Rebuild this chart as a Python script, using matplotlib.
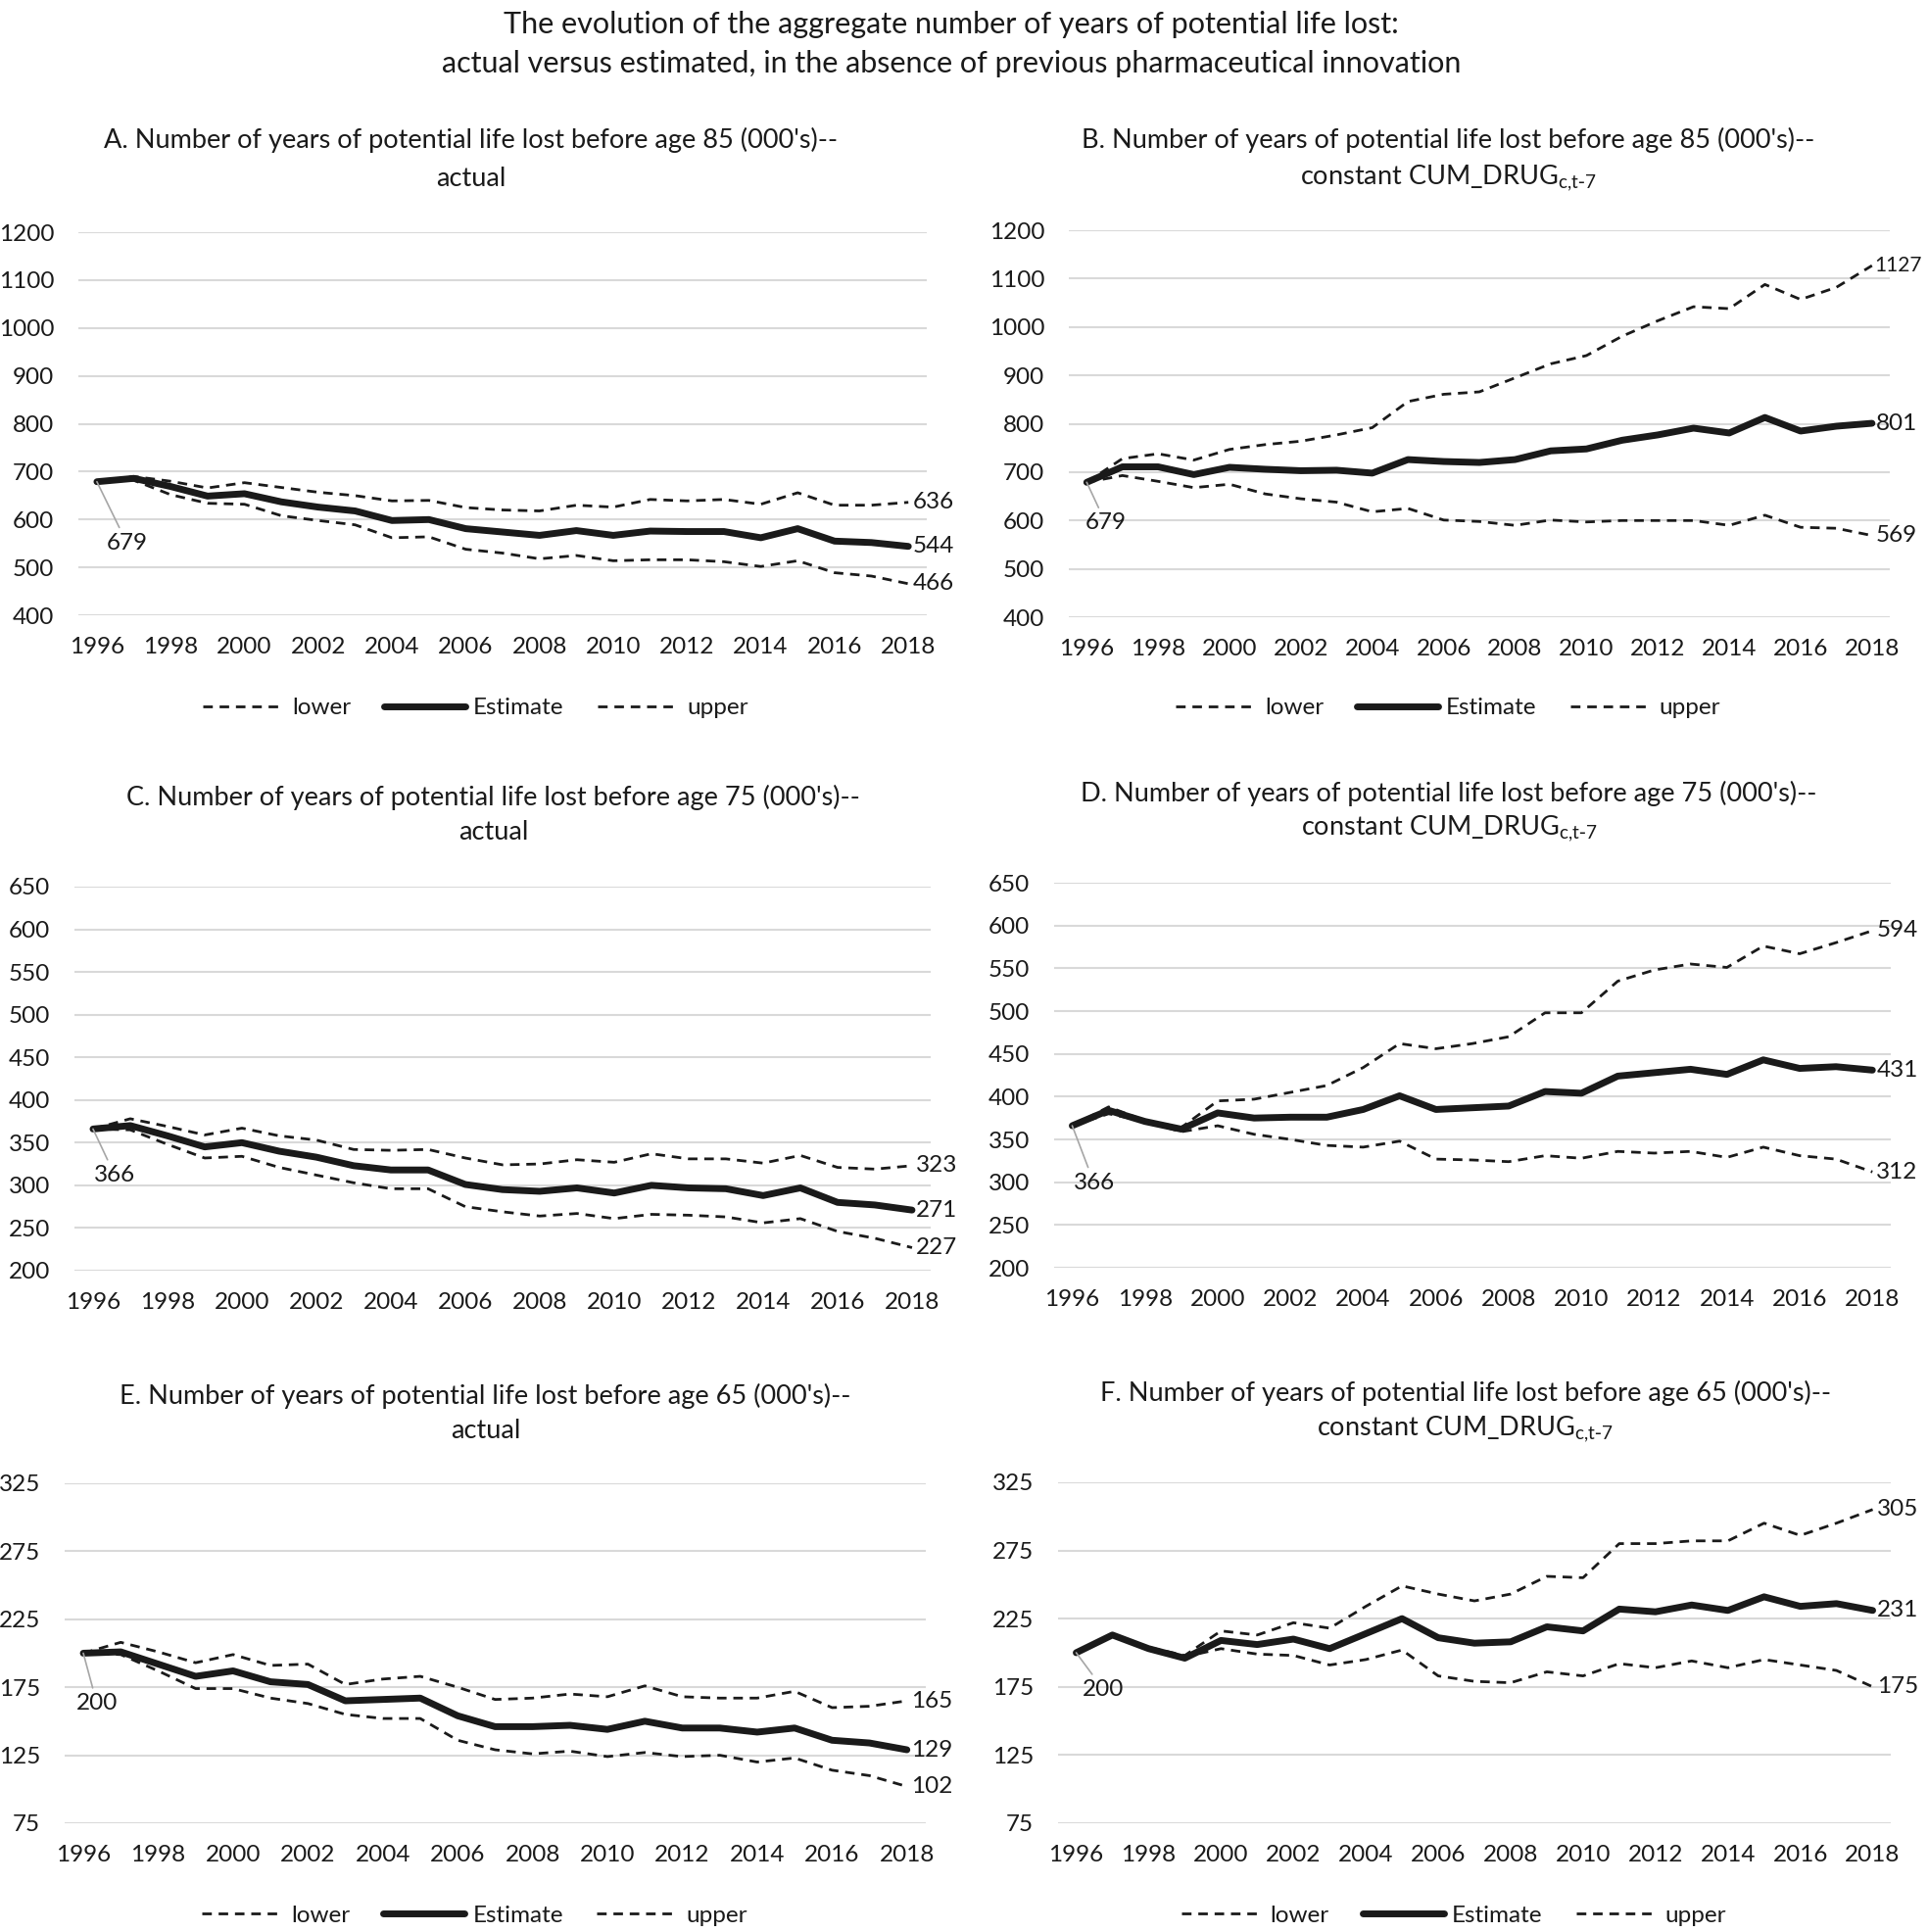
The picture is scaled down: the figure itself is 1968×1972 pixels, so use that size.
# Years of potential life lost: actual vs. constant CUM_DRUG, 3x2 panel grid
import numpy as np
import matplotlib
matplotlib.use("Agg")
import matplotlib.pyplot as plt

plt.rcParams["font.family"] = ["Lato", "DejaVu Sans"]
plt.rcParams["mathtext.default"] = "regular"

years = list(range(1996, 2019))

# A. before age 85 -- actual
a_est = [679, 686, 669, 649, 654, 637, 626, 618, 598, 600, 581, 574, 567, 577, 567, 576,
         575, 575, 562, 581, 555, 552, 544]
a_up = [679, 690, 680, 666, 677, 667, 657, 650, 639, 640, 625, 620, 618, 630, 626, 642,
        639, 642, 632, 656, 630, 630, 636]
a_lo = [679, 682, 652, 634, 632, 608, 598, 589, 562, 564, 538, 530, 518, 525, 514, 516,
        516, 512, 502, 514, 489, 482, 466]
# B. before age 85 -- constant CUM_DRUG
b_est = [679, 711, 711, 695, 710, 706, 703, 704, 698, 726, 722, 720, 726, 744, 748, 766,
         777, 791, 781, 813, 785, 795, 801]
b_up = [679, 728, 738, 725, 747, 757, 764, 777, 792, 846, 861, 866, 895, 924, 941, 981,
        1013, 1042, 1038, 1088, 1057, 1082, 1127]
b_lo = [679, 693, 681, 668, 675, 655, 645, 638, 618, 625, 601, 598, 590, 601, 597, 600,
        600, 600, 590, 611, 586, 584, 569]
# C. before age 75 -- actual
c_est = [366, 370, 358, 345, 350, 340, 333, 323, 318, 318, 301, 295, 293, 297, 291, 300,
         297, 296, 288, 297, 280, 277, 271]
c_up = [366, 378, 369, 359, 367, 358, 353, 342, 341, 342, 332, 324, 325, 330, 327, 337,
        331, 331, 326, 335, 321, 319, 323]
c_lo = [366, 365, 348, 332, 334, 321, 312, 303, 296, 296, 275, 269, 264, 267, 261, 266,
        265, 263, 256, 261, 246, 238, 227]
# D. before age 75 -- constant CUM_DRUG
d_est = [366, 384, 371, 362, 381, 375, 376, 376, 385, 401, 385, 387, 389, 406, 404, 424,
         428, 432, 426, 443, 433, 435, 431]
d_up = [366, 388, 372, 364, 395, 397, 405, 413, 434, 462, 456, 462, 470, 498, 498, 535,
        548, 555, 551, 576, 567, 580, 594]
d_lo = [366, 380, 371, 359, 366, 356, 350, 343, 341, 348, 327, 326, 324, 331, 328, 336,
        334, 336, 329, 341, 331, 327, 312]
# E. before age 65 -- actual
e_est = [200, 201, 192, 183, 187, 179, 177, 165, 166, 167, 154, 146, 146, 147, 144, 150,
         145, 145, 142, 145, 136, 134, 129]
e_up = [200, 208, 201, 193, 199, 191, 192, 177, 181, 183, 175, 166, 167, 170, 168, 176,
        168, 167, 167, 172, 160, 161, 165]
e_lo = [200, 199, 187, 174, 174, 167, 163, 155, 152, 152, 136, 129, 126, 128, 124, 127,
        124, 125, 120, 123, 114, 110, 102]
# F. before age 65 -- constant CUM_DRUG
f_est = [200, 213, 203, 196, 209, 206, 210, 203, 214, 225, 211, 207, 208, 219, 216, 232,
         230, 235, 231, 241, 234, 236, 231]
f_up = [200, 214, 204, 198, 216, 213, 222, 218, 234, 249, 243, 238, 243, 256, 255, 280,
        280, 282, 282, 295, 286, 295, 305]
f_lo = [200, 213, 203, 197, 203, 199, 198, 191, 195, 202, 183, 179, 178, 186, 183, 192,
        189, 194, 189, 195, 191, 187, 175]

titles_1 = ["A. Number of years of potential life lost before age 85 (000's)--",
            "B. Number of years of potential life lost before age 85 (000's)--",
            "C. Number of years of potential life lost before age 75 (000's)--",
            "D. Number of years of potential life lost before age 75 (000's)--",
            "E. Number of years of potential life lost before age 65 (000's)--",
            "F. Number of years of potential life lost before age 65 (000's)--"]
titles_2 = ["actual", r"constant CUM_DRUG$_{c{,}t\text{-}7}$"] * 3
yticks_85 = [400, 500, 600, 700, 800, 900, 1000, 1100, 1200]
yticks_75 = [200, 250, 300, 350, 400, 450, 500, 550, 600, 650]
yticks_65 = [75, 125, 175, 225, 275, 325]

panels = [
    (a_lo, a_est, a_up, yticks_85),
    (b_lo, b_est, b_up, yticks_85),
    (c_lo, c_est, c_up, yticks_75),
    (d_lo, d_est, d_up, yticks_75),
    (e_lo, e_est, e_up, yticks_65),
    (f_lo, f_est, f_up, yticks_65),
]

# layout (figure fractions)
ax_pos = [(0.0407, 0.6815, 0.4400, 0.1983), (0.5544, 0.6805, 0.4258, 0.2003),
          (0.0386, 0.3423, 0.4441, 0.1988), (0.5467, 0.3438, 0.4339, 0.1993),
          (0.0335, 0.0563, 0.4466, 0.1760), (0.5488, 0.0563, 0.4319, 0.1765)]
title_xy = [(0.2443, 0.9275, 0.9077), (0.751, 0.9275, 0.9077),
            (0.256, 0.5872, 0.569), (0.7515, 0.5892, 0.571),
            (0.2517, 0.2774, 0.2596), (0.760, 0.2789, 0.2601)]
legend_xy = {0: (0.2465, 0.6334), 1: (0.751, 0.6334),
             4: (0.246, 0.0086), 5: (0.754, 0.0086)}
# offsets (pt) of the gray-leader start label, per panel
start_off = [(22, -45), (14, -30), (16, -34), (16, -42), (10, -37), (20, -27)]

INK = "#1a1a1a"
GRID = "#d9d9d9"
FS = 17.5

fig = plt.figure(figsize=(19.68, 19.72), dpi=100)
fig.text(0.4934, 0.9873, "The evolution of the aggregate number of years of potential life lost:",
         ha="center", va="center", fontsize=22, color=INK)
fig.text(0.4934, 0.967, "actual versus estimated, in the absence of previous pharmaceutical innovation",
         ha="center", va="center", fontsize=22, color=INK)

for i, (lo, est, up, yt) in enumerate(panels):
    ax = fig.add_axes(ax_pos[i])
    dash = dict(color=INK, lw=2.0, dashes=(3.5, 2.5))
    l1, = ax.plot(years, lo, label="lower", **dash)
    l2, = ax.plot(years, est, label="Estimate", color=INK, lw=5.0,
                  solid_capstyle="round", solid_joinstyle="round")
    l3, = ax.plot(years, up, label="upper", **dash)
    ax.set_xlim(1995.5, 2018.5)
    ax.set_ylim(yt[0], yt[-1])
    ax.set_yticks(yt)
    ax.set_xticks(years[::2])
    ax.grid(axis="y", color=GRID, lw=1.5)
    ax.set_axisbelow(True)
    for s in ax.spines.values():
        s.set_visible(False)
    ax.tick_params(length=0, labelsize=FS, colors=INK)
    ax.tick_params(axis="y", pad=18)
    ax.tick_params(axis="x", pad=16)

    # end labels (4-digit ones a touch smaller so they stay on the page)
    for ser in (lo, est, up):
        txt = f"{ser[-1]}"
        ax.annotate(txt, (years[-1], ser[-1]), xytext=(3 if len(txt) < 4 else 1.5, 0),
                    textcoords="offset points", ha="left", va="center",
                    fontsize=FS if len(txt) < 4 else 15, color=INK,
                    annotation_clip=False)
    # start label with leader line
    ax.annotate(f"{est[0]}", (years[0], est[0]), xytext=start_off[i],
                textcoords="offset points", ha="center", va="center",
                fontsize=FS, color=INK, annotation_clip=False,
                arrowprops=dict(arrowstyle="-", color="#a6a6a6", lw=1.2,
                                shrinkA=2, shrinkB=0))

    tx, ty1, ty2 = title_xy[i]
    fig.text(tx, ty1, titles_1[i], ha="center", va="center", fontsize=19.5, color=INK)
    fig.text(tx, ty2, titles_2[i], ha="center", va="center", fontsize=19.5, color=INK)

    if i in legend_xy:
        fig.legend(handles=[l1, l2, l3], loc="center", bbox_to_anchor=legend_xy[i],
                   ncol=3, frameon=False, fontsize=FS, handlelength=3.4,
                   handletextpad=0.35, columnspacing=1.4, labelcolor=INK)

fig.savefig("out.png", dpi=100)
